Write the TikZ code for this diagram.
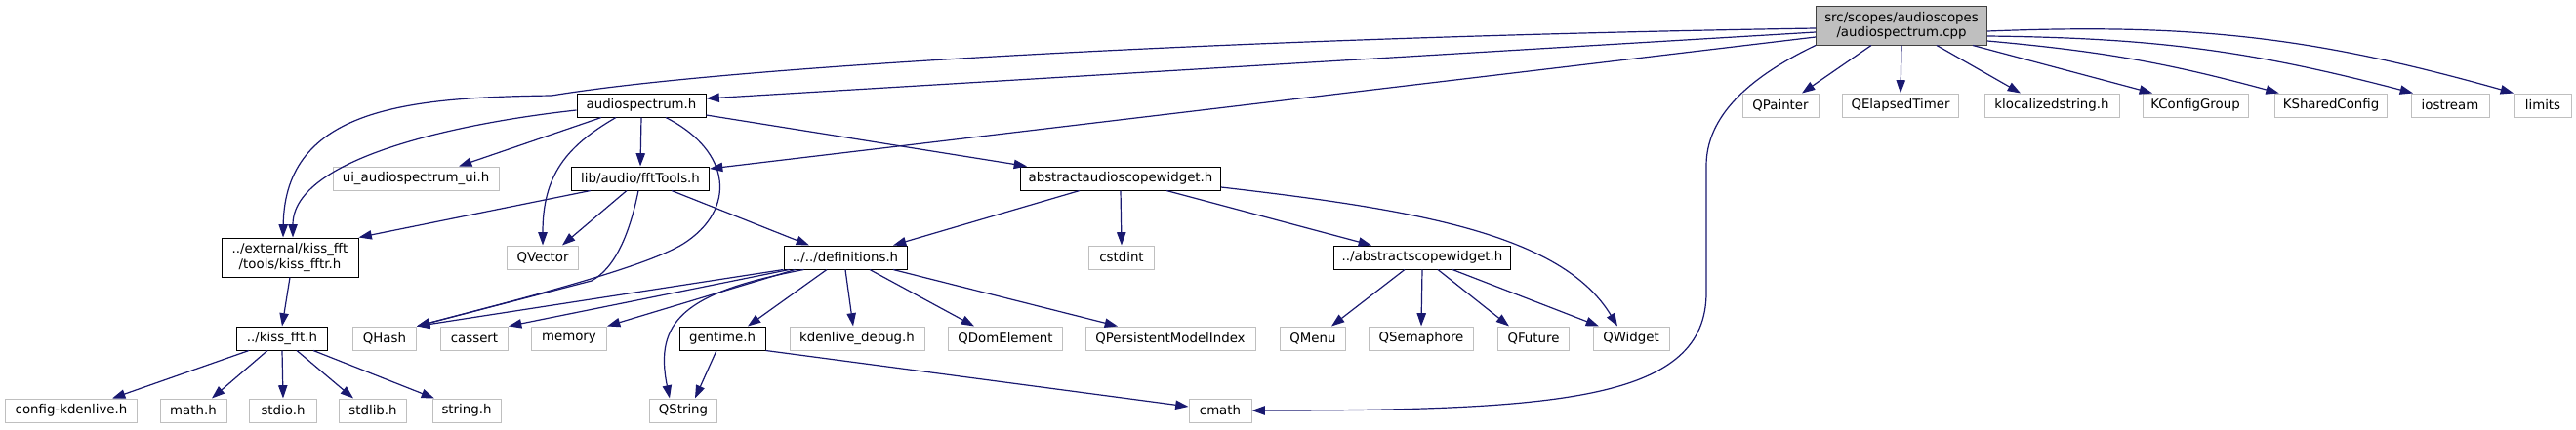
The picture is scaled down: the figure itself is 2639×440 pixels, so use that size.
\documentclass[tikz,border=0pt]{standalone}
\usepackage{fontspec}
\setmainfont{DejaVu Sans}
\usetikzlibrary{arrows.meta}
\definecolor{edgeblue}{HTML}{191970}
\definecolor{extgrey}{HTML}{BFBFBF}
\definecolor{rootline}{HTML}{404040}

\begin{document}
\begin{tikzpicture}[x=0.75pt, y=-0.75pt,
    every node/.style={rectangle, line width=0.75pt, minimum height=18pt, inner sep=1pt, font=\fontsize{10pt}{11.5pt}\selectfont, fill=white, align=center},
    intnode/.style={draw=black},
    extnode/.style={draw=extgrey},
    rootnode/.style={draw=rootline, fill=extgrey, minimum height=30pt},
    boxw/.style={minimum width=#1*0.75pt},
    incl/.style={draw=edgeblue, line width=0.9pt, -{Triangle[length=10pt, width=7pt]}}
]
\useasboundingbox (0,0) rectangle (2639,440);

\node[rootnode, boxw=175] (root) at (1948,26) {src/scopes/audioscopes\\/audiospectrum.cpp};

\node[intnode, boxw=132] (ash) at (657,108) {audiospectrum.h};
\node[extnode, boxw=78] (qpaint) at (1824,108) {QPainter};
\node[extnode, boxw=119] (qtimer) at (1947,108) {QElapsedTimer};
\node[extnode, boxw=138] (kls) at (2102,108) {klocalizedstring.h};
\node[extnode, boxw=108] (kcg) at (2249,108) {KConfigGroup};
\node[extnode, boxw=115] (ksc) at (2388,108) {KSharedConfig};
\node[extnode, boxw=80] (ios) at (2510,108) {iostream};
\node[extnode, boxw=59] (lim) at (2605,108) {limits};

\node[extnode, boxw=170] (ui) at (426,183) {ui\_audiospectrum\_ui.h};
\node[intnode, boxw=141] (fft) at (656,183) {lib/audio/fftTools.h};
\node[intnode, boxw=205] (aasw) at (1148,183) {abstractaudioscopewidget.h};

\node[intnode, boxw=140, minimum height=30pt] (kfr) at (297,264) {../external/kiss\_fft\\/tools/kiss\_fftr.h};
\node[extnode, boxw=73] (qvec) at (556,264) {QVector};
\node[intnode, boxw=126] (defs) at (866,264) {../../definitions.h};
\node[extnode, boxw=67] (cstd) at (1149,264) {cstdint};
\node[intnode, boxw=181] (asw) at (1457,264) {../abstractscopewidget.h};

\node[intnode, boxw=93] (kf) at (289,347) {../kiss\_fft.h};
\node[extnode, boxw=65] (qhash) at (394,347) {QHash};
\node[extnode, boxw=69] (cass) at (486,347) {cassert};
\node[extnode, boxw=77] (mem) at (583,347) {memory};
\node[intnode, boxw=88] (gent) at (740,347) {gentime.h};
\node[extnode, boxw=138] (kdbg) at (878,347) {kdenlive\_debug.h};
\node[extnode, boxw=117] (qdom) at (1030,347) {QDomElement};
\node[extnode, boxw=174] (qpmi) at (1199,347) {QPersistentModelIndex};
\node[extnode, boxw=67] (qmenu) at (1345,347) {QMenu};
\node[extnode, boxw=107] (qsem) at (1456,347) {QSemaphore};
\node[extnode, boxw=73] (qfut) at (1571,347) {QFuture};
\node[extnode, boxw=78] (qwid) at (1671,347) {QWidget};

\node[extnode, boxw=135] (cfg) at (73,421) {config-kdenlive.h};
\node[extnode, boxw=68] (mathh) at (198,421) {math.h};
\node[extnode, boxw=69] (stdio) at (290,421) {stdio.h};
\node[extnode, boxw=69] (stdlib) at (382,421) {stdlib.h};
\node[extnode, boxw=70] (strh) at (478,421) {string.h};
\node[extnode, boxw=69] (qstr) at (700,421) {QString};
\node[extnode, boxw=64] (cmath) at (1250,421) {cmath};

\draw[incl] ([yshift=-2.25pt]root.west) .. controls (1300,38) and (760,66) .. (565,98) .. controls (420,100) and (292,110) .. ([xshift=-5.25pt]kfr.north);
\draw[incl] ([yshift=-5.25pt]root.west) -- ([yshift=5.25pt]ash.east);
\draw[incl] ([yshift=-9pt]root.west) -- ([yshift=7.5pt]fft.east);
\draw[incl] (root.south west) .. controls (1790,80) and (1748,120) .. (1748,170) -- (1748,300) .. controls (1748,410) and (1600,421) .. (cmath.east);
\draw[incl] ([xshift=-23.25pt]root.south) -- ([xshift=16.5pt]qpaint.north);
\draw[incl] (root.south) -- (qtimer.north);
\draw[incl] ([xshift=27pt]root.south) -- ([xshift=-24pt]kls.north);
\draw[incl] ([xshift=54.75pt]root.south) -- ([xshift=-33pt]kcg.north);
\draw[incl] ([yshift=-12pt]root.east) to[bend left=5] ([xshift=-40pt]ksc.north);
\draw[incl] ([yshift=-8.25pt]root.east) to[bend left=7] ([xshift=-28.5pt]ios.north);
\draw[incl] ([yshift=-4.5pt]root.east) to[bend left=9] ([xshift=-22.5pt]lim.north);

\draw[incl] ([yshift=-3.75pt]ash.west) .. controls (480,125) and (300,160) .. ([xshift=2.25pt]kfr.north);
\draw[incl] ([xshift=-30.75pt]ash.south) -- ([xshift=33pt]ui.north);
\draw[incl] ([xshift=-19.5pt]ash.south) .. controls (580,150) and (556,180) .. (qvec.north);
\draw[incl] (ash.south) -- (fft.north);
\draw[incl] ([xshift=18.75pt]ash.south) .. controls (750,155) and (755,215) .. (700,250) .. controls (660,275) and (520,310) .. (qhash.north east);
\draw[incl] ([yshift=-7.5pt]ash.east) -- ([xshift=-72pt]aasw.north);

\draw[incl] ([xshift=-38.25pt]fft.south) -- (kfr.north east);
\draw[incl] ([xshift=-10.5pt]fft.south) -- ([xshift=15pt]qvec.north);
\draw[incl] ([xshift=-1.5pt]fft.south) .. controls (645,240) and (630,275) .. (606,288) -- (qhash.north east);
\draw[incl] ([xshift=24pt]fft.south) -- ([xshift=-27.75pt]defs.north);

\draw[incl] ([xshift=-31.5pt]aasw.south) -- ([xshift=36.75pt]defs.north);
\draw[incl] (aasw.south) -- (cstd.north);
\draw[incl] ([xshift=35.25pt]aasw.south) -- ([xshift=-39pt]asw.north);
\draw[incl] ([yshift=-6.75pt]aasw.east) .. controls (1450,215) and (1600,240) .. ([xshift=-10.5pt]qwid.north);

\draw[incl] (kfr.south) -- (kf.north);
\draw[incl] ([xshift=-25.5pt]kf.south) -- ([xshift=31.5pt]cfg.north);
\draw[incl] ([xshift=-11.25pt]kf.south) -- ([xshift=14.25pt]mathh.north);
\draw[incl] (kf.south) -- (stdio.north);
\draw[incl] ([xshift=11.25pt]kf.south) -- ([xshift=-15pt]stdlib.north);
\draw[incl] ([xshift=24pt]kf.south) -- ([xshift=-24.75pt]strh.north);

\draw[incl] (defs.south west) -- (qhash.north east);
\draw[incl] ([xshift=4.5pt]defs.south west) -- (cass.north east);
\draw[incl] ([xshift=9pt]defs.south west) -- (mem.north east);
\draw[incl] ([xshift=15.75pt]defs.south west) .. controls (700,300) and (670,330) .. ([xshift=-10.5pt]qstr.north);
\draw[incl] ([xshift=-14.25pt]defs.south) -- ([xshift=19.5pt]gent.north);
\draw[incl] (defs.south) -- ([xshift=-3pt]kdbg.north);
\draw[incl] ([xshift=18.75pt]defs.south) -- ([xshift=-24pt]qdom.north);
\draw[incl] ([xshift=36.75pt]defs.south) -- ([xshift=-40.5pt]qpmi.north);

\draw[incl] ([xshift=-4.5pt]gent.south) -- ([xshift=9pt]qstr.north);
\draw[incl] (gent.south east) -- ([yshift=3pt]cmath.west);

\draw[incl] ([xshift=-13.5pt]asw.south) -- ([xshift=14.25pt]qmenu.north);
\draw[incl] (asw.south) -- (qsem.north);
\draw[incl] ([xshift=12pt]asw.south) -- ([xshift=-18.75pt]qfut.north);
\draw[incl] ([xshift=23.25pt]asw.south) -- ([xshift=-24.75pt]qwid.north);
\end{tikzpicture}
\end{document}
